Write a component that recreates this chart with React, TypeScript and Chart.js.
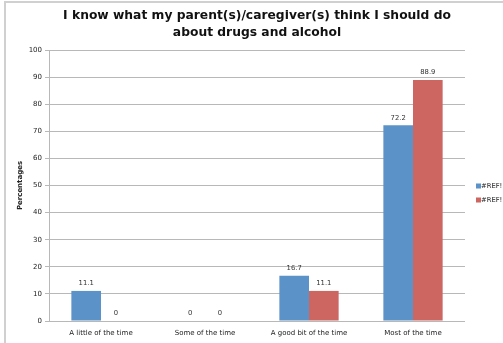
import React, { useEffect, useRef } from "react";
import { Chart, registerables } from "chart.js";

Chart.register(...registerables);

const titleLines = ["I know what my parent(s)/caregiver(s) think I should do", "about drugs and alcohol"];
const categories = ["A little of the time", "Some of the time", "A good bit of the time", "Most of the time"];
const seriesNames = ["#REF!", "#REF!"];
const seriesA = [11.1, 0, 16.7, 72.2];
const seriesB = [0, 0, 11.1, 88.9];
const seriesColors = ["#5B93C9", "#CD6560"];
const yTitle = "Percentages";
const yMin = 0;
const yMax = 100;
const yStep = 10;

const FONT = "'DejaVu Sans', Verdana, sans-serif";

const decorPlugin = {
  id: "decor",
  beforeDraw(chart: any) {
    const ctx = chart.ctx;
    ctx.save();
    ctx.fillStyle = "#ffffff";
    ctx.fillRect(0, 0, chart.width, chart.height);
    ctx.strokeStyle = "#d0d0d0";
    ctx.lineWidth = 2;
    ctx.beginPath();
    ctx.moveTo(5, chart.height);
    ctx.lineTo(5, 2);
    ctx.lineTo(chart.width, 2);
    ctx.stroke();
    ctx.restore();
  },
  afterDraw(chart: any) {
    const ctx = chart.ctx;
    ctx.save();
    // title
    ctx.fillStyle = "#111";
    ctx.font = `bold 12.3px ${FONT}`;
    ctx.textAlign = "center";
    ctx.textBaseline = "middle";
    titleLines.forEach((l, i) => ctx.fillText(l, 257, 16 + i * 17));
    // y title
    ctx.save();
    ctx.translate(20, (chart.chartArea.top + chart.chartArea.bottom) / 2);
    ctx.rotate(-Math.PI / 2);
    ctx.font = `bold 7px ${FONT}`;
    ctx.fillStyle = "#222";
    ctx.fillText(yTitle, 0, 0);
    ctx.restore();
    // legend
    ctx.font = `6.8px ${FONT}`;
    ctx.textAlign = "left";
    chart.data.datasets.forEach((ds: any, i: number) => {
      const y = 186 + i * 14;
      ctx.fillStyle = ds.backgroundColor;
      ctx.fillRect(476, y - 2.5, 5, 5);
      ctx.fillStyle = "#222";
      ctx.fillText(ds.label, 481, y);
    });
    // data labels
    ctx.textAlign = "center";
    ctx.textBaseline = "bottom";
    ctx.fillStyle = "#333";
    chart.data.datasets.forEach((ds: any, i: number) => {
      const meta = chart.getDatasetMeta(i);
      meta.data.forEach((el: any, j: number) => {
        ctx.fillText(String(ds.data[j]), el.x, el.y - 4);
      });
    });
    ctx.restore();
  },
};

export default function App() {
  const ref = useRef<HTMLCanvasElement>(null);
  useEffect(() => {
    if (!ref.current) return;
    const chart = new Chart(ref.current, {
      type: "bar",
      data: {
        labels: categories,
        datasets: [
          { label: seriesNames[0], data: seriesA, backgroundColor: seriesColors[0], borderWidth: 0 },
          { label: seriesNames[1], data: seriesB, backgroundColor: seriesColors[1], borderWidth: 0 },
        ],
      },
      options: {
        responsive: false,
        animation: false,
        devicePixelRatio: 1,
        layout: { padding: { top: 50, right: 38, bottom: 0, left: 0 } },
        datasets: { bar: { categoryPercentage: 0.57, barPercentage: 1 } },
        plugins: { legend: { display: false }, title: { display: false }, tooltip: { enabled: false } },
        scales: {
          x: {
            grid: { display: false },
            border: { display: false },
            ticks: { color: "#222", font: { family: FONT, size: 7 }, padding: 0, maxRotation: 0 },
            afterFit: (s: any) => { s.height = 22; },
          },
          y: {
            min: yMin,
            max: yMax,
            ticks: { stepSize: yStep, color: "#222", font: { family: FONT, size: 7 }, padding: 3 },
            grid: { color: "#b8b8b8", tickLength: 4, lineWidth: 1 },
            border: { display: true, color: "#b8b8b8" },
            afterFit: (s: any) => { s.width = 49; },
          },
        },
      },
      plugins: [decorPlugin],
    } as any);
    return () => chart.destroy();
  }, []);
  return (
    <div style={{ position: "absolute", left: 0, top: 0, width: 503, height: 343 }}>
      <canvas ref={ref} width={503} height={343} />
    </div>
  );
}
